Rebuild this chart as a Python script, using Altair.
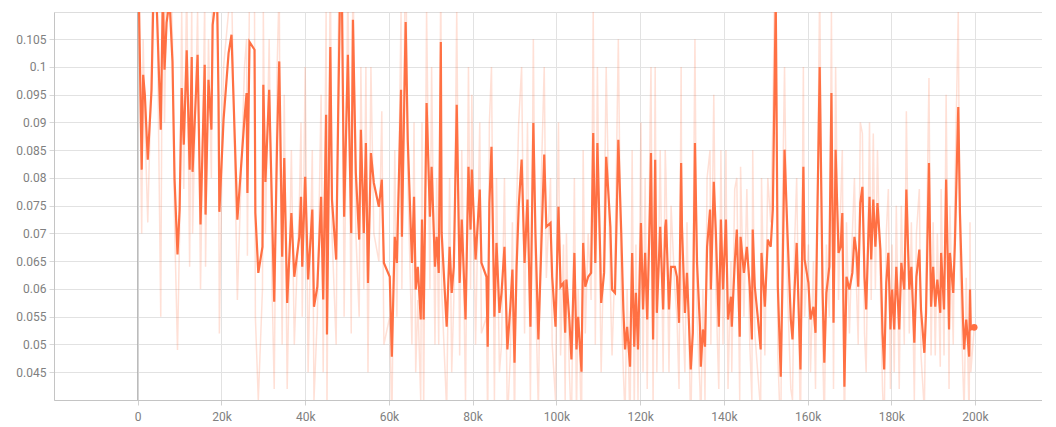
import altair as alt
import pandas as pd

# training steps (thousands)
steps_k = [
    0, 0.95, 1.3, 1.7, 2.4, 3.3, 3.8, 4.5, 5.5, 6.0,
    6.4, 6.9, 7.6, 8.3, 8.8, 9.5, 10.0, 10.5, 11.0, 11.7,
    12.4, 12.9, 13.1, 14.3, 15.0, 16.0, 16.2, 16.9, 17.6, 17.9,
    18.6, 19.0, 19.3, 19.5, 20.5, 21.7, 22.4, 23.8, 25.5, 26.0,
    26.2, 26.7, 27.9, 28.1, 28.8, 29.8, 30.0, 30.5, 31.4, 32.1,
    32.6, 33.3, 33.8, 34.0, 34.5, 35.0, 35.7, 36.7, 37.4, 38.6,
    39.0, 39.3, 40.0, 40.7, 41.7, 42.1, 42.9, 43.8, 44.3, 45.0,
    45.2, 46.0, 46.4, 47.4, 47.9, 48.3, 48.8, 49.3, 50.2, 51.0,
    51.4, 52.1, 52.9, 53.3, 54.0, 54.5, 55.0, 55.7, 56.4, 57.6,
    58.3, 58.8, 60.2, 60.7, 61.4, 61.9, 62.9, 63.1, 64.0, 64.5,
    65.5, 66.0, 66.4, 66.9, 67.6, 67.9, 68.3, 69.0, 69.8, 70.2,
    71.0, 71.4, 71.9, 72.4, 72.6, 73.8, 74.5, 75.0, 75.5, 76.2,
    76.9, 77.4, 78.3, 79.0, 79.5, 79.8, 80.7, 81.7, 82.1, 83.3,
    83.6, 84.0, 84.5, 85.2, 85.7, 86.4, 86.9, 87.6, 88.3, 89.0,
    89.5, 90.0, 90.5, 91.0, 91.7, 92.4, 93.1, 93.8, 94.5, 95.0,
    95.7, 96.4, 97.1, 97.6, 98.6, 99.0, 99.8, 100.2, 100.5, 101.0,
    101.7, 102.1, 102.4, 103.1, 103.6, 104.3, 104.8, 105.2, 106.0, 106.4,
    106.9, 107.6, 108.3, 108.8, 109.3, 109.8, 110.5, 110.7, 111.4, 111.9,
    112.9, 113.3, 114.0, 114.8, 115.5, 116.0, 116.4, 116.9, 117.6, 118.1,
    118.6, 119.0, 119.5, 120.2, 120.7, 121.2, 121.7, 122.4, 122.6, 123.1,
    123.6, 124.0, 124.8, 125.5, 126.0, 126.2, 126.9, 127.4, 128.3, 128.8,
    129.3, 129.8, 130.0, 130.7, 131.2, 132.1, 132.6, 133.1, 133.6, 134.3,
    134.5, 135.0, 135.5, 136.0, 136.7, 136.9, 137.6, 138.1, 138.8, 139.3,
    139.8, 140.5, 141.0, 141.7, 141.9, 142.6, 143.1, 143.8, 144.0, 144.8,
    145.5, 146.2, 146.7, 146.9, 147.4, 148.1, 148.8, 149.0, 149.8, 150.5,
    151.2, 151.7, 152.4, 152.9, 153.6, 154.0, 154.5, 155.2, 156.0, 156.4,
    156.9, 157.4, 158.3, 159.0, 159.3, 160.2, 160.7, 161.4, 161.9, 162.9,
    163.6, 164.0, 164.5, 165.2, 165.7, 166.2, 166.7, 167.4, 167.9, 168.3,
    168.8, 169.3, 170.0, 170.7, 171.2, 171.7, 172.1, 172.6, 173.1, 173.6,
    174.0, 174.8, 175.2, 175.7, 176.2, 176.7, 177.4, 177.9, 178.3, 178.8,
    179.3, 179.8, 180.2, 180.7, 181.2, 181.9, 182.4, 183.1, 183.6, 184.3,
    184.8, 185.5, 186.0, 186.7, 187.1, 187.9, 188.3, 189.0, 189.5, 190.0,
    190.5, 191.0, 191.7, 191.9, 192.6, 193.1, 193.8, 194.0, 194.8, 195.2,
    196.0, 196.4, 197.1, 197.4, 197.9, 198.6, 198.8, 199.0, 199.8,
]

# smoothed loss
smoothed = [
    0.125, 0.0815, 0.0986, 0.095, 0.0833, 0.0959, 0.115, 0.112, 0.0887, 0.113,
    0.0995, 0.108, 0.112, 0.101, 0.0797, 0.0662, 0.0743, 0.0962, 0.086, 0.103,
    0.0815, 0.1018, 0.0811, 0.1022, 0.0716, 0.1004, 0.0734, 0.0977, 0.0887, 0.1076,
    0.112, 0.110, 0.0944, 0.0739, 0.0905, 0.1025, 0.1058, 0.0725, 0.0908, 0.0953,
    0.0773, 0.1045, 0.1031, 0.0737, 0.0629, 0.0676, 0.0968, 0.0793, 0.0959, 0.0737,
    0.0577, 0.0869, 0.101, 0.0917, 0.0658, 0.0836, 0.0575, 0.0737, 0.0622, 0.0694,
    0.0766, 0.064, 0.0802, 0.0617, 0.0743, 0.0568, 0.0604, 0.0766, 0.0581, 0.0914,
    0.0518, 0.1036, 0.0761, 0.0653, 0.0923, 0.112, 0.111, 0.073, 0.1022, 0.0701,
    0.1085, 0.0809, 0.0689, 0.0887, 0.0701, 0.0863, 0.0611, 0.0845, 0.0791, 0.0748,
    0.0797, 0.0647, 0.0622, 0.0478, 0.0694, 0.0647, 0.0959, 0.0694, 0.1081, 0.0869,
    0.0647, 0.0766, 0.0599, 0.064, 0.0545, 0.0725, 0.0545, 0.0935, 0.073, 0.082,
    0.064, 0.0694, 0.0629, 0.1045, 0.0701, 0.0532, 0.0676, 0.0593, 0.064, 0.0932,
    0.0611, 0.0725, 0.0545, 0.082, 0.0707, 0.0815, 0.0653, 0.0779, 0.0647, 0.0622,
    0.0496, 0.0755, 0.0856, 0.055, 0.0683, 0.0557, 0.0593, 0.0676, 0.0491, 0.0568,
    0.0635, 0.0467, 0.064, 0.0748, 0.0833, 0.0647, 0.0761, 0.0532, 0.0899, 0.0701,
    0.0509, 0.0676, 0.0842, 0.0712, 0.0719, 0.0622, 0.0532, 0.0658, 0.0748, 0.0604,
    0.0611, 0.0521, 0.0617, 0.0545, 0.0473, 0.0665, 0.0491, 0.055, 0.0451, 0.0683,
    0.0604, 0.0622, 0.0629, 0.0881, 0.0647, 0.0863, 0.0653, 0.0575, 0.0629, 0.0838,
    0.0712, 0.0599, 0.0593, 0.0869, 0.0701, 0.0563, 0.0491, 0.0532, 0.046, 0.0665,
    0.0496, 0.0593, 0.0491, 0.0719, 0.0563, 0.0665, 0.0545, 0.0761, 0.0845, 0.0509,
    0.0833, 0.0557, 0.0712, 0.0563, 0.0712, 0.0725, 0.0563, 0.064, 0.064, 0.0622,
    0.0539, 0.0827, 0.0712, 0.0557, 0.0629, 0.0455, 0.0521, 0.0863, 0.0647, 0.0532,
    0.046, 0.0527, 0.0496, 0.0676, 0.0743, 0.0599, 0.0793, 0.0701, 0.0532, 0.0725,
    0.0599, 0.0725, 0.0545, 0.0586, 0.0532, 0.0647, 0.0707, 0.0514, 0.0694, 0.0629,
    0.0676, 0.0604, 0.0509, 0.0707, 0.0604, 0.055, 0.0491, 0.0665, 0.0568, 0.0689,
    0.0676, 0.0743, 0.112, 0.0604, 0.0442, 0.0611, 0.0851, 0.0701, 0.0545, 0.0509,
    0.0599, 0.0683, 0.0455, 0.082, 0.0653, 0.0611, 0.0545, 0.0568, 0.0521, 0.1,
    0.0593, 0.0467, 0.0593, 0.064, 0.0953, 0.0539, 0.0851, 0.0665, 0.0676, 0.0737,
    0.0424, 0.0622, 0.0599, 0.0629, 0.0694, 0.0665, 0.0604, 0.0755, 0.0784, 0.0622,
    0.0563, 0.0766, 0.0653, 0.0761, 0.0676, 0.0755, 0.0671, 0.0521, 0.0455, 0.0611,
    0.0665, 0.0527, 0.0599, 0.0527, 0.064, 0.0527, 0.0647, 0.0599, 0.0779, 0.0599,
    0.064, 0.0503, 0.0622, 0.0671, 0.0563, 0.0485, 0.0557, 0.0827, 0.0568, 0.064,
    0.0568, 0.0617, 0.0557, 0.0665, 0.0563, 0.0797, 0.0527, 0.0665, 0.0593, 0.0683,
    0.0928, 0.0737, 0.055, 0.0491, 0.0545, 0.0478, 0.0599, 0.0527, 0.0531,
]

# raw (unsmoothed) loss
raw = [
    0.13, 0.07, 0.105, 0.09, 0.072, 0.1, 0.13, 0.12, 0.055, 0.13,
    0.09, 0.115, 0.125, 0.105, 0.072, 0.049, 0.07, 0.11, 0.078, 0.115,
    0.064, 0.112, 0.07, 0.11, 0.06, 0.112, 0.064, 0.105, 0.08, 0.12,
    0.13, 0.115, 0.088, 0.052, 0.1, 0.11, 0.115, 0.058, 0.1, 0.105,
    0.066, 0.115, 0.11, 0.055, 0.04, 0.06, 0.11, 0.07, 0.105, 0.06,
    0.042, 0.1, 0.115, 0.085, 0.05, 0.095, 0.042, 0.085, 0.05, 0.075,
    0.09, 0.055, 0.1, 0.045, 0.085, 0.04, 0.055, 0.095, 0.045, 0.11,
    0.038, 0.12, 0.07, 0.05, 0.105, 0.125, 0.12, 0.055, 0.115, 0.052,
    0.12, 0.07, 0.055, 0.1, 0.06, 0.1, 0.045, 0.1, 0.07, 0.065,
    0.092, 0.05, 0.055, 0.035, 0.085, 0.055, 0.11, 0.06, 0.125, 0.08,
    0.05, 0.09, 0.045, 0.058, 0.04, 0.09, 0.038, 0.11, 0.06, 0.1,
    0.05, 0.08, 0.05, 0.12, 0.06, 0.038, 0.08, 0.045, 0.058, 0.11,
    0.048, 0.085, 0.04, 0.1, 0.06, 0.095, 0.05, 0.09, 0.052, 0.055,
    0.035, 0.09, 0.1, 0.04, 0.08, 0.045, 0.05, 0.08, 0.036, 0.048,
    0.072, 0.035, 0.075, 0.09, 0.1, 0.052, 0.09, 0.04, 0.105, 0.06,
    0.038, 0.08, 0.1, 0.062, 0.08, 0.05, 0.04, 0.075, 0.09, 0.048,
    0.068, 0.04, 0.07, 0.045, 0.035, 0.08, 0.037, 0.06, 0.034, 0.085,
    0.052, 0.07, 0.058, 0.11, 0.05, 0.1, 0.055, 0.045, 0.07, 0.1,
    0.06, 0.048, 0.065, 0.105, 0.058, 0.045, 0.037, 0.06, 0.034, 0.085,
    0.038, 0.068, 0.04, 0.09, 0.045, 0.08, 0.042, 0.09, 0.1, 0.038,
    0.1, 0.045, 0.085, 0.045, 0.085, 0.08, 0.045, 0.075, 0.06, 0.055,
    0.042, 0.1, 0.06, 0.045, 0.072, 0.034, 0.06, 0.105, 0.055, 0.042,
    0.035, 0.06, 0.04, 0.08, 0.085, 0.05, 0.095, 0.06, 0.042, 0.085,
    0.05, 0.085, 0.042, 0.065, 0.045, 0.078, 0.08, 0.04, 0.082, 0.055,
    0.078, 0.05, 0.04, 0.085, 0.052, 0.045, 0.038, 0.08, 0.048, 0.08,
    0.072, 0.09, 0.13, 0.048, 0.033, 0.075, 0.1, 0.06, 0.042, 0.04,
    0.068, 0.08, 0.034, 0.1, 0.055, 0.068, 0.045, 0.065, 0.042, 0.115,
    0.05, 0.035, 0.068, 0.055, 0.11, 0.042, 0.1, 0.058, 0.075, 0.085,
    0.032, 0.072, 0.052, 0.07, 0.08, 0.06, 0.05, 0.09, 0.088, 0.052,
    0.045, 0.09, 0.058, 0.088, 0.06, 0.085, 0.06, 0.042, 0.035, 0.07,
    0.078, 0.042, 0.068, 0.045, 0.075, 0.042, 0.075, 0.05, 0.092, 0.052,
    0.072, 0.04, 0.07, 0.078, 0.048, 0.038, 0.062, 0.098, 0.048, 0.072,
    0.048, 0.07, 0.046, 0.078, 0.048, 0.095, 0.042, 0.075, 0.05, 0.078,
    0.11, 0.065, 0.045, 0.038, 0.062, 0.036, 0.072, 0.045, 0.053,
]

y_ticks = [0.045, 0.05, 0.055, 0.06, 0.065, 0.07, 0.075, 0.08, 0.085, 0.09, 0.095, 0.1, 0.105]
x_ticks = [0, 20000, 40000, 60000, 80000, 100000, 120000, 140000, 160000, 180000, 200000]

n = min(len(steps_k), len(smoothed), len(raw))
df = pd.DataFrame({
    "step": [s * 1000 for s in steps_k[:n]],
    "smoothed": smoothed[:n],
    "raw": raw[:n],
})
last = df.tail(1)

ORANGE = "#ff7043"
X_DOM = [-20000, 216000]
Y_DOM = [0.04, 0.1099]
LABEL_COLOR = "#808080"
GRID = "#e2e2e2"

x_scale = alt.Scale(domain=X_DOM, nice=False, zero=False)
y_scale = alt.Scale(domain=Y_DOM, nice=False, zero=False)

x_axis = alt.Axis(values=x_ticks, title=None, grid=True,
                  labelExpr="datum.value == 0 ? '0' : format(datum.value / 1000, 'd') + 'k'",
                  gridColor=GRID, domainColor="#c4c4c4", tickColor="#d0d0d0",
                  tickSize=5, labelColor=LABEL_COLOR, labelFontSize=12,
                  labelFont="Roboto", labelPadding=6, labelOverlap=False)
y_axis = alt.Axis(values=y_ticks, title=None, grid=True,
                  labelExpr="format(datum.value, '~g')",
                  gridColor=GRID, domainColor="#c4c4c4", ticks=True, tickSize=5,
                  tickColor="#d8d8d8", labelColor=LABEL_COLOR, labelFontSize=12,
                  labelFont="Roboto", labelPadding=3, labelOverlap=False)

def X(field):
    return alt.X(field, type="quantitative", scale=x_scale, axis=x_axis)

def Y(field):
    return alt.Y(field, type="quantitative", scale=y_scale, axis=y_axis)

raw_line = alt.Chart(df).mark_line(color=ORANGE, opacity=0.22, strokeWidth=1.5, clip=True).encode(
    x=X("step"), y=Y("raw"),
)

zero_rule = alt.Chart(pd.DataFrame({"z": [0]})).mark_rule(color="#a8a8a8", strokeWidth=1).encode(
    x=X("z"),
)

smooth_line = alt.Chart(df).mark_line(color=ORANGE, strokeWidth=2.2, clip=True).encode(
    x=X("step"), y=Y("smoothed"),
)

end_dot = alt.Chart(last).mark_point(filled=True, color=ORANGE, size=45, opacity=1).encode(
    x=X("step"), y=Y("smoothed"),
)

chart = alt.layer(raw_line, zero_rule, smooth_line, end_dot).properties(
    width=988, height=388,
    padding={"left": 7, "top": 3, "right": 0, "bottom": 5},
).configure_view(stroke=None).configure_axis(labelOverlap=False).configure(background="white")

chart.save("out.html", embed_options={"renderer": "svg", "actions": False})
